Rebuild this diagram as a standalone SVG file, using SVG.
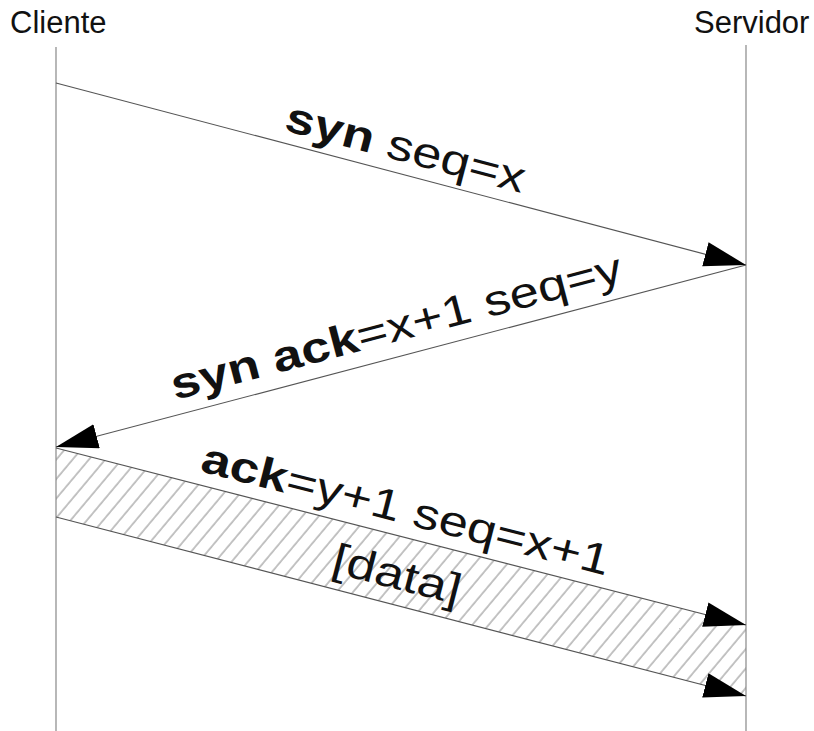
<svg xmlns="http://www.w3.org/2000/svg" width="814" height="731" viewBox="0 0 814 731">
<style>
.title{font-family:"Liberation Sans",Arial,sans-serif;font-size:31px;fill:#111}
.lbl{font-family:"Liberation Sans",Arial,sans-serif;font-size:43px;fill:#111}
.life{stroke:#888;stroke-width:1.2;fill:none}
.msg{stroke:#555;stroke-width:1.2;fill:none;marker-end:url(#ah)}
</style>
<defs>
<marker id="ah" markerUnits="userSpaceOnUse" markerWidth="44" markerHeight="26" refX="42" refY="12.5" orient="auto" viewBox="0 0 44 26">
<path d="M0,0 L42,12.5 L0,25 z" fill="#000"/>
</marker>
<pattern id="hatch" patternUnits="userSpaceOnUse" width="12.5" height="20" patternTransform="rotate(40)">
<line x1="1" y1="-5" x2="1" y2="25" stroke="#888" stroke-width="1"/>
</pattern>
</defs>
<g id="cliente">
<text class="title" x="10" y="33">Cliente</text>
<line class="life" x1="56" y1="47" x2="56" y2="731"/>
</g>
<g id="servidor">
<text class="title" x="694" y="33">Servidor</text>
<line class="life" x1="746" y1="45" x2="746" y2="731"/>
</g>
<g id="data-band">
<polygon points="56,448 746,625 746,696 56,517" fill="url(#hatch)" stroke="none"/>
</g>
<g id="connectors">
<line class="msg" x1="56" y1="83" x2="746" y2="265"/>
<line class="msg" x1="746" y1="265" x2="56" y2="447"/>
<line class="msg" x1="56" y1="448" x2="746" y2="625"/>
<line class="msg" x1="56" y1="517" x2="746" y2="696"/>
</g>
<g id="labels">
<text class="lbl" transform="translate(283,130) rotate(14.78) scale(1.22,1)"><tspan font-weight="bold">syn</tspan> seq=x</text>
<text class="lbl" transform="translate(175,400) rotate(-14.78) scale(1.22,1)"><tspan font-weight="bold">syn ack</tspan>=x+1 seq=y</text>
<text class="lbl" transform="translate(199,471) rotate(14.4) scale(1.22,1)"><tspan font-weight="bold">ack</tspan>=y+1 seq=x+1</text>
<text class="lbl" transform="translate(330,572) rotate(14.4) scale(1.22,1)">[data]</text>
</g>
</svg>
